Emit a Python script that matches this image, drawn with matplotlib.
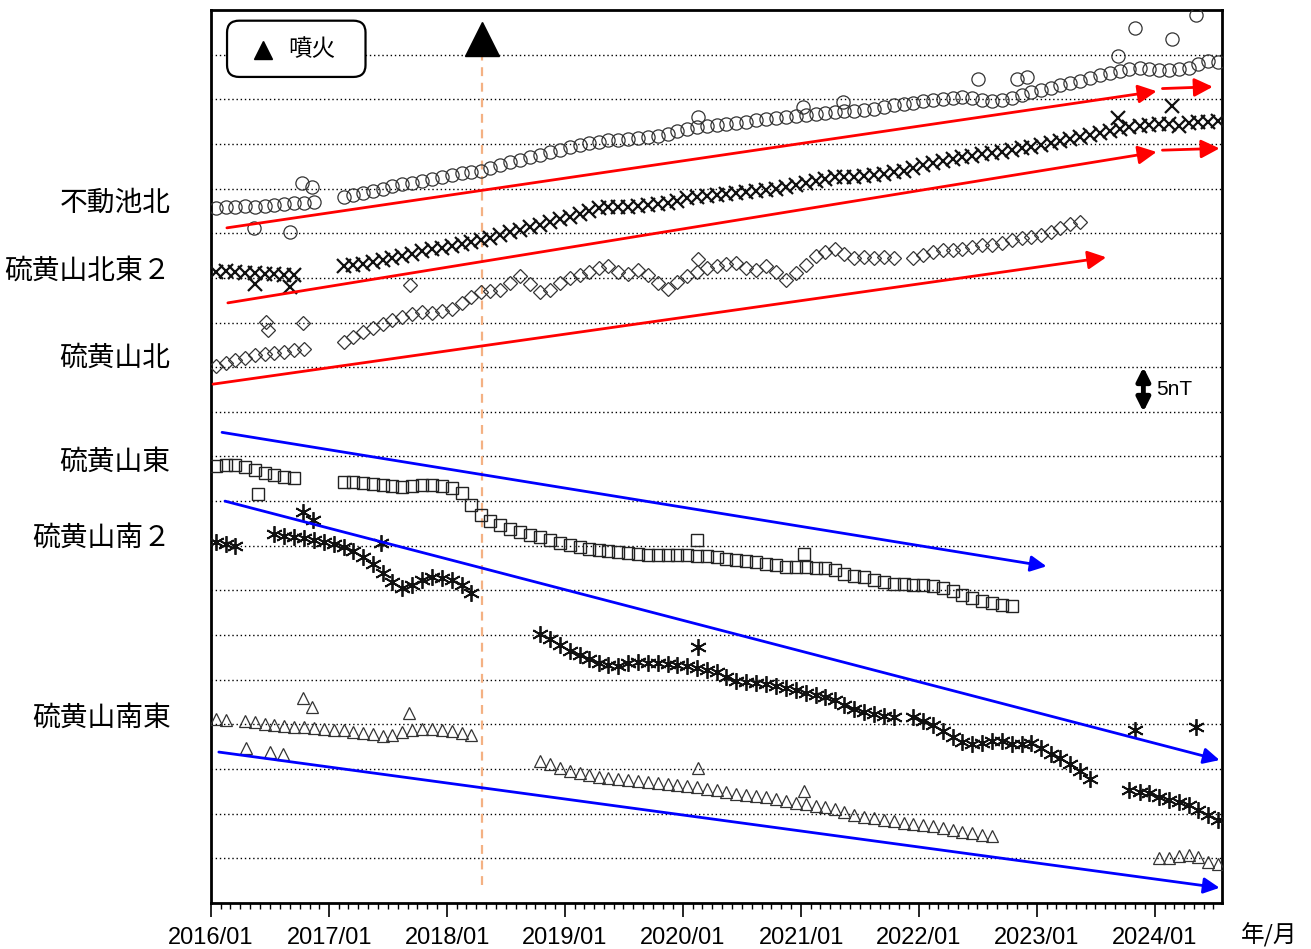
import numpy as np
import pandas as pd
import matplotlib
matplotlib.use('Agg')
import matplotlib.pyplot as plt
import matplotlib.dates as mdates
from matplotlib.patches import FancyBboxPatch

plt.rcParams['font.family'] = ['Noto Sans CJK JP', 'DejaVu Sans']

# ---- monthly values (nT, arbitrary offset per station) ----
# 不動池北 (circles)
fudo_a_start, fudo_a = '2016-01', [77.8, 77.9, 77.9, 78.1, 77.9, 78.1, 78.2, 78.3, 78.4, 78.4, 78.5]
fudo_b_start, fudo_b = '2017-02', [
    79.1, 79.3, 79.5, 79.7, 80.0, 80.3, 80.5, 80.6, 80.9, 81.1, 81.3, 81.5, 81.7, 81.9, 82.0,
    82.3, 82.6, 83.0, 83.2, 83.5, 83.8, 84.1, 84.3, 84.7, 84.9, 85.1, 85.2,
    85.4, 85.4, 85.6, 85.7, 85.8, 85.9, 86.1, 86.5, 86.7, 86.9, 87.0, 87.1,
    87.2, 87.3, 87.5, 87.7, 87.8, 87.9, 88.0, 88.1, 88.2, 88.4, 88.5, 88.6,
    88.7, 88.7, 88.8, 88.9, 89.1, 89.4, 89.5, 89.6, 89.8, 89.9, 90.0, 90.1,
    90.3, 90.1, 89.9, 89.8, 89.9, 90.1, 90.5, 90.8, 91.0, 91.3, 91.6, 91.8,
    92.0, 92.4, 92.7, 92.9, 93.2, 93.4, 93.5, 93.4, 93.3, 93.3, 93.4, 93.5,
    94.0, 94.3, 94.2]
fudo_out_dates = ['2016-05-13', '2016-09-02', '2016-10-09', '2016-11-09', '2020-02-16', '2021-01-07',
                  '2021-05-10', '2022-07-04', '2022-11-02', '2022-12-03', '2023-09-08', '2023-11-02',
                  '2024-02-25', '2024-05-07']
fudo_out = [75.6, 75.1, 80.6, 80.2, 88.0, 89.1, 89.7, 92.3, 92.3, 92.5, 94.9, 98.0, 96.8, 99.4]

# 硫黄山北東２ (x)
ne2_a_start, ne2_a = '2016-01', [70.7, 70.8, 70.7, 70.5, 70.5, 70.4, 70.4, 70.3, 70.3]
ne2_b_start, ne2_b = '2017-02', [
    71.3, 71.4, 71.6, 71.8, 72.0, 72.2, 72.5, 72.7, 73.0, 73.2, 73.3, 73.6, 73.8, 74.0, 74.2,
    74.5, 74.8, 75.1, 75.4, 75.7, 75.9, 76.3, 76.6, 76.8, 77.2, 77.5, 77.8,
    77.9, 77.9, 77.9, 78.1, 78.2, 78.3, 78.4, 78.6, 78.9, 79.1, 79.2, 79.3,
    79.4, 79.5, 79.6, 79.7, 79.8, 80.0, 80.2, 80.4, 80.6, 80.9, 81.1, 81.3,
    81.3, 81.3, 81.4, 81.5, 81.6, 81.9, 82.0, 82.3, 82.6, 82.9, 83.1, 83.3,
    83.5, 83.7, 83.9, 84.0, 84.1, 84.3, 84.5, 84.7, 84.9, 85.1, 85.3, 85.6,
    85.8, 86.0, 86.2, 86.5, 86.7, 86.9, 87.0, 87.1, 87.2, 87.2, 87.0, 87.3,
    87.5, 87.5, 87.6]
ne2_out_dates = ['2016-05-16', '2016-09-02', '2023-09-08', '2024-02-25']
ne2_out = [69.3, 69.0, 87.9, 89.3]

# 硫黄山北 (diamonds)
north_a_start, north_a = '2016-01', [60.1, 60.5, 60.8, 61.0, 61.4, 61.5, 61.6, 61.7, 61.9, 62.0]
north_b_start, north_b = '2017-02', [
    62.8, 63.4, 63.9, 64.4, 64.8, 65.3, 65.6, 66.0, 66.2, 66.1, 66.3, 66.5, 67.2, 67.9, 68.4,
    68.5, 68.6, 69.4, 70.2, 69.3, 68.4, 68.6, 69.4, 70.0, 70.3, 70.7, 71.1,
    71.3, 70.7, 70.4, 70.9, 70.3, 69.4, 68.8, 69.5, 70.2, 70.7, 71.1, 71.3,
    71.6, 71.7, 71.1, 70.9, 71.3, 70.7, 69.8, 70.5, 71.4, 72.5, 72.9, 73.2,
    72.7, 72.2, 72.3, 72.2, 72.3, 72.2]
north_c_start, north_c = '2021-12', [
    72.2, 72.6, 72.9, 73.1, 73.1,
    73.2, 73.5, 73.7, 73.7, 73.9, 74.2, 74.5, 74.6, 74.8, 75.1, 75.6, 76.0, 76.3]
north_out_dates = ['2016-06-19', '2016-06-25', '2016-10-12', '2017-09-08', '2020-02-16']
north_out = [65.1, 64.2, 64.9, 69.2, 72.1]

# 硫黄山東 (squares)
east_a_start, east_a = '2016-01', [48.9, 49.0, 49.0, 48.8, 48.5, 48.2, 47.9, 47.7, 47.6]
east_b_start, east_b = '2017-02', [
    47.1, 47.1, 47.0, 46.9, 46.8, 46.7, 46.6, 46.7, 46.8, 46.8, 46.7, 46.5, 45.9, 44.6, 43.4,
    42.8, 42.3, 41.9, 41.5, 41.2, 41.0, 40.6, 40.3, 40.1, 39.9, 39.6, 39.5,
    39.4, 39.3, 39.2, 39.1, 39.0, 39.0, 39.0, 39.0, 39.0, 38.9, 38.9, 38.7,
    38.5, 38.4, 38.3, 38.2, 38.0, 37.8, 37.6, 37.6, 37.6, 37.5, 37.5, 37.3,
    36.8, 36.6, 36.5, 36.2, 35.9, 35.7, 35.7, 35.6, 35.6, 35.5, 35.3, 34.9,
    34.5, 34.2, 33.8, 33.6, 33.4, 33.3]
east_out_dates = ['2016-05-25', '2020-02-13', '2021-01-10']
east_out = [45.8, 40.6, 39.1]

# 硫黄山南２ (asterisks)
s2_a_start, s2_a = '2016-01', [40.4, 40.2, 40.0]
s2_b_start, s2_b = '2016-07', [
    41.3, 41.1, 41.0, 40.9, 40.6, 40.4, 40.2, 39.9, 39.4, 38.7, 38.0, 37.0, 35.9, 35.3,
    35.6, 36.2, 36.5, 36.4, 36.2, 35.6, 34.7]
s2_c_start, s2_c = '2018-10', [
    30.1, 29.6, 28.9, 28.2, 27.8, 27.3, 26.9, 26.7, 26.5, 26.9, 27.0, 26.9, 26.9,
    26.8, 26.7, 26.5, 26.3, 26.1, 25.9, 25.3, 24.9, 24.7, 24.6, 24.5, 24.3, 24.1,
    23.9, 23.5, 23.3, 23.1, 22.7, 22.2, 21.7, 21.4, 21.2, 20.9, 20.8]
s2_d_start, s2_d = '2021-12', [
    20.8, 20.4, 19.9, 19.3, 18.6, 18.0, 17.8, 17.9, 18.1, 18.1, 17.8, 17.8, 17.9,
    17.4, 16.7, 16.2, 15.6, 14.8, 13.9]
s2_e_start, s2_e = '2023-10', [12.7, 12.4, 12.3, 11.9, 11.5, 11.3, 11.0, 10.4, 9.9, 9.3]
s2_out_dates = ['2016-10-12', '2016-11-12', '2017-06-10', '2020-02-16', '2023-11-02', '2024-05-07']
s2_out = [43.8, 42.9, 40.3, 28.7, 19.4, 19.7]

# 硫黄山南東 (triangles)
se_a_start, se_a = '2016-01', [20.6, 20.5]
se_b_start, se_b = '2016-04', [
    20.4, 20.3, 20.0, 19.9, 19.8, 19.7, 19.7, 19.6, 19.5, 19.4, 19.4, 19.1,
    19.0, 18.9, 18.7, 18.8, 19.1, 19.4, 19.5, 19.5, 19.4, 19.3, 19.0, 18.8]
se_c_start, se_c = '2018-10', [
    15.9, 15.6, 15.1, 14.8, 14.6, 14.3, 14.1, 14.0, 13.9, 13.8, 13.7, 13.5,
    13.4, 13.3, 13.2, 13.1, 13.0, 12.8, 12.7, 12.4, 12.2, 12.1, 12.0, 11.9,
    11.6, 11.4, 11.2, 11.1, 10.9, 10.8, 10.5, 10.2, 9.9, 9.6, 9.5, 9.3,
    9.2, 9.0, 8.8, 8.7, 8.6, 8.4, 8.2, 8.0, 7.8, 7.6, 7.5]
se_d_start, se_d = '2024-01', [5.0, 5.0, 5.3, 5.4, 5.2, 4.6, 4.4]
se_out_dates = ['2016-04-18', '2016-07-01', '2016-08-11', '2016-10-12', '2016-11-09', '2017-09-05',
                '2020-02-16', '2021-01-10']
se_out = [17.4, 16.9, 16.7, 23.0, 21.9, 21.3, 15.1, 12.5]

# trend arrows: (start date, start nT, end date, end nT)
red_arrows = [('2016-02-19', 75.6, '2024-01-07', 90.9),
              ('2024-01-25', 91.2, '2024-06-29', 91.4),
              ('2016-02-22', 67.2, '2024-01-07', 84.1),
              ('2024-01-25', 84.3, '2024-07-20', 84.5),
              ('2016-01-07', 58.1, '2023-08-04', 72.3)]
blue_arrows = [('2016-02-04', 52.7, '2023-01-31', 37.7),
               ('2016-02-13', 45.0, '2024-07-20', 16.0),
               ('2016-01-25', 16.9, '2024-07-20', 1.7)]

eruption_date = '2018-04-19'
stations = ['不動池北', '硫黄山北東２', '硫黄山北', '硫黄山東', '硫黄山南２', '硫黄山南東']
station_y = [78.4, 70.8, 61.1, 49.4, 40.9, 20.7]


def months(start, n):
    return pd.date_range(start + '-01', periods=n, freq='MS') + pd.Timedelta(days=14)


fig = plt.figure(figsize=(13.11, 9.49), dpi=100)
ax = fig.add_axes([0.161, 0.0485, 0.771, 0.941])

series = [
    ([(fudo_a_start, fudo_a), (fudo_b_start, fudo_b)], fudo_out_dates, fudo_out,
     dict(marker='o', ms=9.5, mfc='none', mec='#333333', mew=0.9)),
    ([(ne2_a_start, ne2_a), (ne2_b_start, ne2_b)], ne2_out_dates, ne2_out,
     dict(marker='x', ms=10, mec='#111111', mew=1.6)),
    ([(north_a_start, north_a), (north_b_start, north_b), (north_c_start, north_c)],
     north_out_dates, north_out,
     dict(marker='D', ms=7.5, mfc='none', mec='#333333', mew=0.9)),
    ([(east_a_start, east_a), (east_b_start, east_b)], east_out_dates, east_out,
     dict(marker='s', ms=8.5, mfc='none', mec='#222222', mew=1.0)),
    ([(s2_a_start, s2_a), (s2_b_start, s2_b), (s2_c_start, s2_c), (s2_d_start, s2_d),
      (s2_e_start, s2_e)], s2_out_dates, s2_out,
     dict(marker=(6, 2, 0), ms=12, mec='#111111', mew=1.3)),
    ([(se_a_start, se_a), (se_b_start, se_b), (se_c_start, se_c), (se_d_start, se_d)],
     se_out_dates, se_out,
     dict(marker='^', ms=8.5, mfc='none', mec='#333333', mew=0.9)),
]

for segs, odates, ovals, style in series:
    for start, vals in segs:
        ax.plot(months(start, len(vals)), vals, linestyle='none', zorder=3, **style)
    ax.plot(pd.to_datetime(odates), ovals, linestyle='none', zorder=3, **style)

for x0, y0, x1, y1 in red_arrows:
    ax.annotate('', xy=(pd.Timestamp(x1), y1), xytext=(pd.Timestamp(x0), y0),
                arrowprops=dict(arrowstyle='-|>', color='red', lw=2, mutation_scale=28,
                                shrinkA=0, shrinkB=0), zorder=4)
for x0, y0, x1, y1 in blue_arrows:
    ax.annotate('', xy=(pd.Timestamp(x1), y1), xytext=(pd.Timestamp(x0), y0),
                arrowprops=dict(arrowstyle='-|>', color='blue', lw=2, mutation_scale=24,
                                shrinkA=0, shrinkB=0), zorder=4)

# eruption
ed = pd.Timestamp(eruption_date)
ax.plot([ed, ed], [2, 95], color='#f4b183', lw=1.6, linestyle=(0, (4, 3)), zorder=2)
ax.plot([ed], [96.8], marker='^', ms=24, color='black', zorder=5, clip_on=False)

# 5 nT scale
sd = pd.Timestamp('2023-11-27')
ax.annotate('', xy=(sd, 55.0), xytext=(sd, 60.0),
            arrowprops=dict(arrowstyle='<|-|>', color='black', lw=3.5, mutation_scale=20,
                            shrinkA=0, shrinkB=0), zorder=5)
ax.text(pd.Timestamp('2024-01-05'), 57.5, '5nT', fontsize=15, va='center', ha='left',
        family=['Liberation Sans', 'DejaVu Sans'])

# legend box
box = FancyBboxPatch((0.0158, 0.925), 0.137, 0.063, boxstyle='round,pad=0,rounding_size=0.012',
                     transform=ax.transAxes, fc='white', ec='black', lw=1.6, zorder=6,
                     mutation_aspect=1.1)
ax.add_patch(box)
ax.plot([0.051], [0.955], marker='^', ms=13, color='black', transform=ax.transAxes, zorder=7)
ax.text(0.076, 0.956, '噴火', transform=ax.transAxes, fontsize=17, va='center', ha='left', zorder=7)

# station labels
for name, yv in zip(stations, station_y):
    ax.text(-0.04, yv, name, transform=ax.get_yaxis_transform(), fontsize=20,
            ha='right', va='center')

ax.set_ylim(0, 100)
ax.set_yticks(np.arange(5, 100, 5))
ax.set_yticklabels([])
ax.tick_params(axis='y', length=0)
ax.grid(axis='y', color='black', linestyle=(0, (1, 2)), lw=1)

ax.set_xlim(pd.Timestamp('2016-01-01'), pd.Timestamp('2024-07-27'))
ax.xaxis.set_major_locator(mdates.YearLocator())
ax.xaxis.set_major_formatter(mdates.DateFormatter('%Y/%m'))
ax.xaxis.set_minor_locator(mdates.MonthLocator())
ax.tick_params(axis='x', which='major', direction='out', length=10, width=1.2, pad=7)
ax.tick_params(axis='x', which='minor', direction='out', length=4, width=1)
for lab in ax.get_xticklabels():
    lab.set_family(['Liberation Sans', 'DejaVu Sans'])
    lab.set_fontsize(17)
fig.text(0.968, 0.0145, '年/月', fontsize=17, ha='center', va='center')

for sp in ax.spines.values():
    sp.set_linewidth(2)

fig.savefig('out.png', dpi=100)
